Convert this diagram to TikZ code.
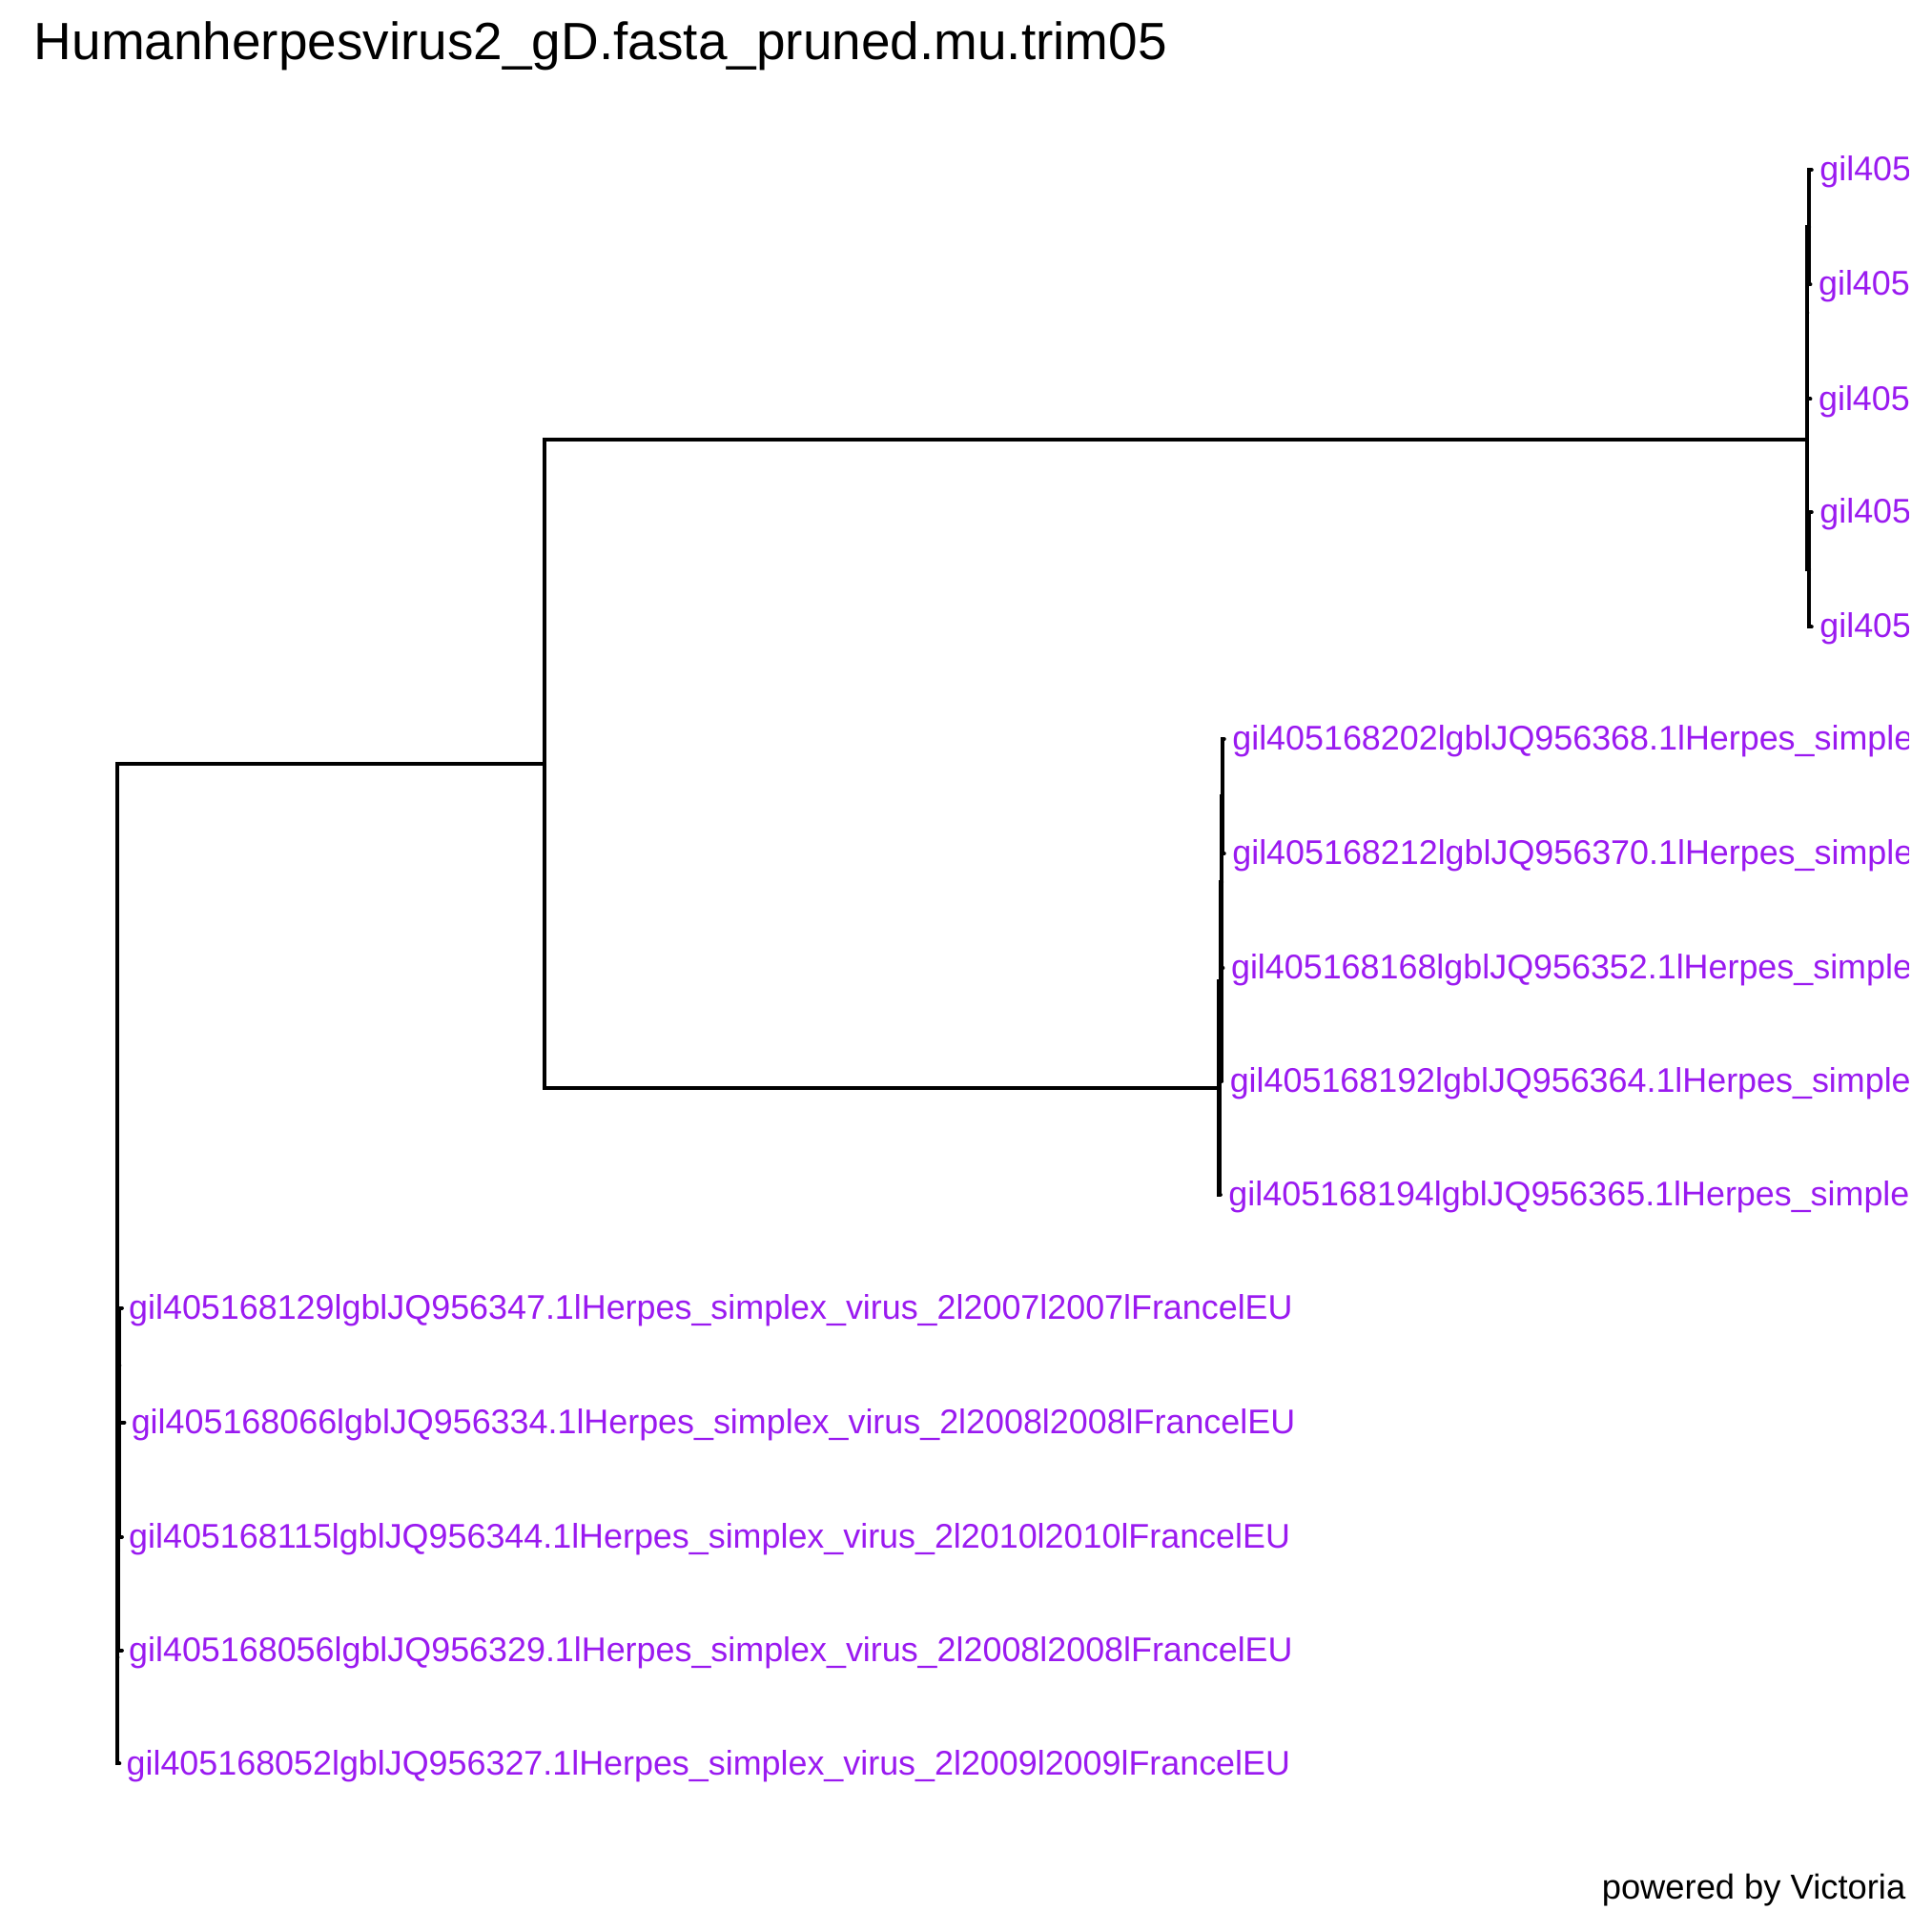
\documentclass[tikz,border=0pt]{standalone}
\usepackage{fontspec}
\setmainfont{Liberation Sans}
\usetikzlibrary{calc}
\definecolor{tipviolet}{HTML}{9A1AF0}

\begin{document}
\begin{tikzpicture}[x=0.01cm,y=-0.01cm,
    branch/.style={line width=0.9pt,line cap=round},
    tiplab/.style={anchor=base west,inner sep=0pt,text=tipviolet,
                   font=\fontsize{7.9}{9}\selectfont}]
    \useasboundingbox (0,0) rectangle (1568,1568);
    \node[anchor=base west,inner sep=0pt,font=\fontsize{12.1}{14}\selectfont]
      (title) at (27,48) {Humanherpesvirus2\_gD.fasta\_pruned.mu.trim05};
    % inner nodes
    \coordinate (root) at (95,983);
    \coordinate (up)   at (442,620);
    \coordinate (top)  at (1467,357);
    \coordinate (ta)   at (1467.5,254);
    \coordinate (tc)   at (1469,184.5);
    \coordinate (tb)   at (1469,462.5);
    \coordinate (mid)  at (990,883.5);
    \coordinate (mn1)  at (991.5,797);
    \coordinate (mn2)  at (992,716);
    \coordinate (mn3)  at (992.5,646.5);
    \coordinate (bot)  at (95.5,1345.5);
    \coordinate (bn2)  at (96,1259);
    \coordinate (bn3)  at (96.5,1178);
    \coordinate (bn4)  at (97,1108.5);
    % tips
    \coordinate (t1) at (1471,138);  \coordinate (t2) at (1470,231);
    \coordinate (t3) at (1470,324);  \coordinate (t4) at (1471,416);
    \coordinate (t5) at (1471,509);
    \coordinate (m1) at (994,600);   \coordinate (m2) at (994,693);
    \coordinate (m3) at (993,786);   \coordinate (m4) at (992,878);
    \coordinate (m5) at (991,970);
    \coordinate (b1) at (99,1062);   \coordinate (b2) at (101,1155);
    \coordinate (b3) at (99,1248);   \coordinate (b4) at (99,1340);
    \coordinate (b5) at (97,1432);
    \foreach \p/\c in {root/up,root/bot,up/top,up/mid,
                       top/ta,top/tb,ta/tc,ta/t3,tc/t1,tc/t2,tb/t4,tb/t5,
                       mid/mn1,mid/m5,mn1/mn2,mn1/m4,mn2/mn3,mn2/m3,mn3/m1,mn3/m2,
                       bot/bn2,bot/b5,bn2/bn3,bn2/b4,bn3/bn4,bn3/b3,bn4/b1,bn4/b2}
      \draw[branch] (\p) |- (\c);
    \begin{scope}
      \clip (0,0) rectangle (1550,1568);
      \foreach \leaf in {t1,t2,t3,t4,t5}
        \node[tiplab] (lab-\leaf) at ($(\leaf)+(6,9)$) {gil405};
      \foreach \leaf/\txt in {m1/gil405168202lgblJQ956368.1lHerpes\_simple,
                              m2/gil405168212lgblJQ956370.1lHerpes\_simple,
                              m3/gil405168168lgblJQ956352.1lHerpes\_simple,
                              m4/gil405168192lgblJQ956364.1lHerpes\_simple,
                              m5/gil405168194lgblJQ956365.1lHerpes\_simple}
        \node[tiplab] (lab-\leaf) at ($(\leaf)+(6,9)$) {\txt};
    \end{scope}
    \foreach \leaf/\txt in {b1/gil405168129lgblJQ956347.1lHerpes\_simplex\_virus\_2l2007l2007lFrancelEU,
                            b2/gil405168066lgblJQ956334.1lHerpes\_simplex\_virus\_2l2008l2008lFrancelEU,
                            b3/gil405168115lgblJQ956344.1lHerpes\_simplex\_virus\_2l2010l2010lFrancelEU,
                            b4/gil405168056lgblJQ956329.1lHerpes\_simplex\_virus\_2l2008l2008lFrancelEU,
                            b5/gil405168052lgblJQ956327.1lHerpes\_simplex\_virus\_2l2009l2009lFrancelEU}
      \node[tiplab] (lab-\leaf) at ($(\leaf)+(5,9)$) {\txt};
    \node[anchor=base east,inner sep=0pt,font=\fontsize{8}{10}\selectfont]
      (credit) at (1548,1542) {powered by Victoria};
\end{tikzpicture}
\end{document}
